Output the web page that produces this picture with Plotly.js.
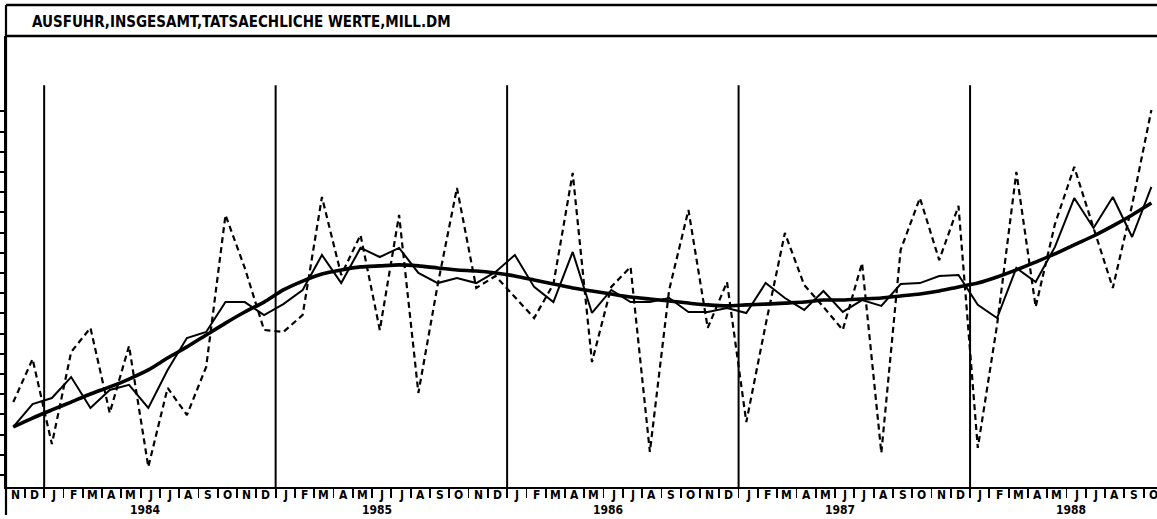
<!DOCTYPE html>
<html>
<head>
<meta charset="utf-8">
<script src="https://cdn.plot.ly/plotly-3.0.1.min.js"></script>
<style>
html,body{margin:0;padding:0;background:#fff;overflow:hidden;}
#chart{width:1166px;height:519px;}
</style>
</head>
<body>
<div id="chart"></div>
<script>
// Months from Nov 1983 to Oct 1988
const monthLabels = ["N","D",
 "J","F","M","A","M","J","J","A","S","O","N","D",
 "J","F","M","A","M","J","J","A","S","O","N","D",
 "J","F","M","A","M","J","J","A","S","O","N","D",
 "J","F","M","A","M","J","J","A","S","O","N","D",
 "J","F","M","A","M","J","J","A","S","O"];
const yearLabels = ["1984","1985","1986","1987","1988"];
const titleText = "AUSFUHR,INSGESAMT,TATSAECHLICHE WERTE,MILL.DM";

// Actual values (dashed), Mill. DM
const actual = [38610,40740,
 36530,41090,42280,38070,41390,35400,39310,37970,40350,47870,45250,42180,
 42080,42920,48760,44900,46880,42180,47870,39060,44410,49210,44260,44850,
 43810,42770,44450,49950,40590,44310,45300,36140,44160,48120,42280,44550,
 37620,42430,46980,44410,43320,42180,45490,36090,46140,48710,45640,48320,
 36340,42430,50000,43320,47420,50250,47230,44260,48370,53070];

// Seasonally adjusted (thin solid)
const adjusted = [37380,38510,
 38810,39850,38320,39210,39460,38320,40200,41780,42080,43560,43560,42920,
 43460,44160,45890,44500,46240,45790,46240,45000,44500,44750,44500,45050,
 45890,44310,43560,46040,43020,44160,43560,43560,43760,43070,43070,43270,
 43020,44500,43760,43170,44110,43070,43660,43370,44450,44500,44850,44900,
 43420,42770,45250,44550,46290,48710,47230,48760,46780,49260];

// Trend (thick smooth)
const trend = [37380,37820,
 38220,38610,39010,39360,39750,40200,40790,41340,41930,42520,43070,43560,
 44160,44600,44950,45150,45300,45350,45400,45350,45250,45150,45100,45000,
 44850,44650,44450,44260,44110,43960,43810,43710,43610,43510,43420,43370,
 43420,43460,43510,43560,43660,43660,43710,43760,43860,43960,44110,44310,
 44500,44800,45150,45540,45940,46390,46830,47330,47870,48460];

const yTicks = [35000,36000,37000,38000,39000,40000,41000,42000,43000,44000,
 45000,46000,47000,48000,49000,50000,51000,52000,53000];

const idx = monthLabels.map((m,i)=>i);
const FONT = "DejaVu Sans Condensed, Liberation Sans Narrow, sans-serif";

const traces = [
 {x: idx, y: actual, type:'scatter', mode:'lines',
  line:{color:'#000', width:2.2, dash:'6px,4px'}, hoverinfo:'skip'},
 {x: idx, y: adjusted, type:'scatter', mode:'lines',
  line:{color:'#000', width:2}, hoverinfo:'skip'},
 {x: idx, y: trend, type:'scatter', mode:'lines',
  line:{color:'#000', width:3.6, shape:'spline', smoothing:0.6}, hoverinfo:'skip'}
];

const shapes = [];
// frame lines
shapes.push({type:'line', xref:'paper', yref:'paper', x0:0, x1:1.01, y0:1.0687, y1:1.0687, line:{color:'#000', width:2.5}});
shapes.push({type:'line', xref:'paper', yref:'paper', x0:0, x1:1.01, y0:1.0, y1:1.0, line:{color:'#000', width:2.5}});
shapes.push({type:'line', xref:'paper', yref:'paper', x0:0, x1:0, y0:-0.062, y1:1.0687, line:{color:'#000', width:2.2}});
// year separator lines
yearLabels.forEach((y,k)=>{
  const xb = 1.6 + 12*k;
  shapes.push({type:'line', xref:'x', yref:'paper', x0:xb, x1:xb, y0:0, y1:0.891, line:{color:'#000', width:2}});
});

const annotations = [];
annotations.push({text:titleText, xref:'paper', yref:'paper', x:0.0207, y:1.031,
  xanchor:'left', yanchor:'middle', showarrow:false,
  font:{family:FONT, size:15, color:'#000', weight:'bold'}});
monthLabels.forEach((m,i)=>{
  annotations.push({text:m, xref:'x', yref:'paper', x:i+0.1, y:0, yanchor:'top', yshift:0,
    borderpad:0,
    showarrow:false, font:{family:FONT, size:12, color:'#000', weight:'bold'}});
});
yearLabels.forEach((y,k)=>{
  annotations.push({text:y, xref:'x', yref:'paper', x:7+12*k-0.15, y:0, yanchor:'top', yshift:-15,
    borderpad:0,
    showarrow:false, font:{family:FONT, size:12, color:'#000', weight:'bold'}});
});

const sepTicks = idx.map(i=>i-0.4).concat([59.6]);

const layout = {
  width:1166, height:519,
  margin:{l:6, r:0, t:36, b:32},
  paper_bgcolor:'#fff', plot_bgcolor:'#fff',
  showlegend:false,
  xaxis:{range:[-0.378, 59.757], showgrid:false, zeroline:false,
    showline:true, linecolor:'#000', linewidth:2.2,
    tickmode:'array', tickvals:sepTicks, ticktext:sepTicks.map(()=>''),
    ticks:'outside', ticklen:9, tickwidth:1.8, tickcolor:'#000', showticklabels:false},
  yaxis:{range:[34406, 56730], showgrid:false, zeroline:false,
    showline:true, linecolor:'#000', linewidth:2.2,
    tickmode:'array', tickvals:yTicks, ticktext:yTicks.map(()=>''),
    ticks:'outside', ticklen:6, tickwidth:2, tickcolor:'#000', showticklabels:false},
  shapes:shapes,
  annotations:annotations
};

Plotly.newPlot('chart', traces, layout, {displayModeBar:false, staticPlot:true});
</script>
</body>
</html>
